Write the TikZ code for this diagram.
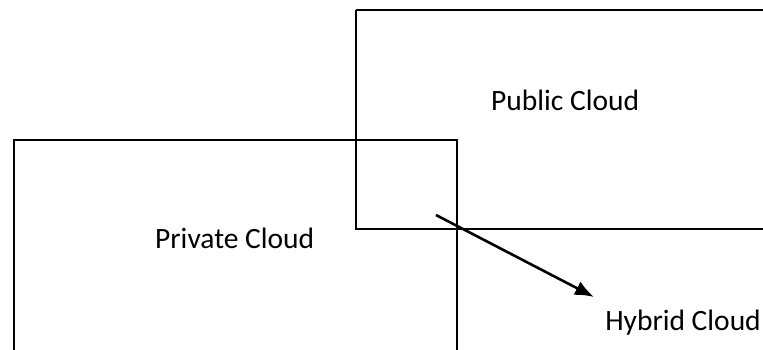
\documentclass[tikz,border=0pt]{standalone}
\usepackage{fontspec}
\setmainfont{Carlito}
\usetikzlibrary{arrows.meta}
\begin{document}
\begin{tikzpicture}[x=1pt,y=-1pt,
  box/.style={draw=black,line width=2.2pt},
  lbl/.style={font=\fontsize{29.5}{34}\selectfont,inner sep=0pt,anchor=west},
  conn/.style={draw=black,line width=2.6pt,-{Latex[length=19pt,width=15pt]}}]
\useasboundingbox (0,0) rectangle (763,349);
\clip (0,0) rectangle (763,349);
\fill[white] (0,0) rectangle (763,349);
\draw[box] (356,10) -- (780,10) (356,10) -- (356,229) -- (780,229);
\draw[box] (14,370) -- (14,140) -- (457,140) -- (457,370);
\node[lbl] (pub) at (491,100) {Public Cloud};
\node[lbl] (priv) at (155,238) {Private Cloud};
\node[lbl,anchor=east] (hyb) at (761,323) {Hybrid Cloud};
\coordinate (s) at (436,215);
\coordinate (e) at (594,297);
\draw[conn] (s) -- (e);
\end{tikzpicture}
\end{document}
